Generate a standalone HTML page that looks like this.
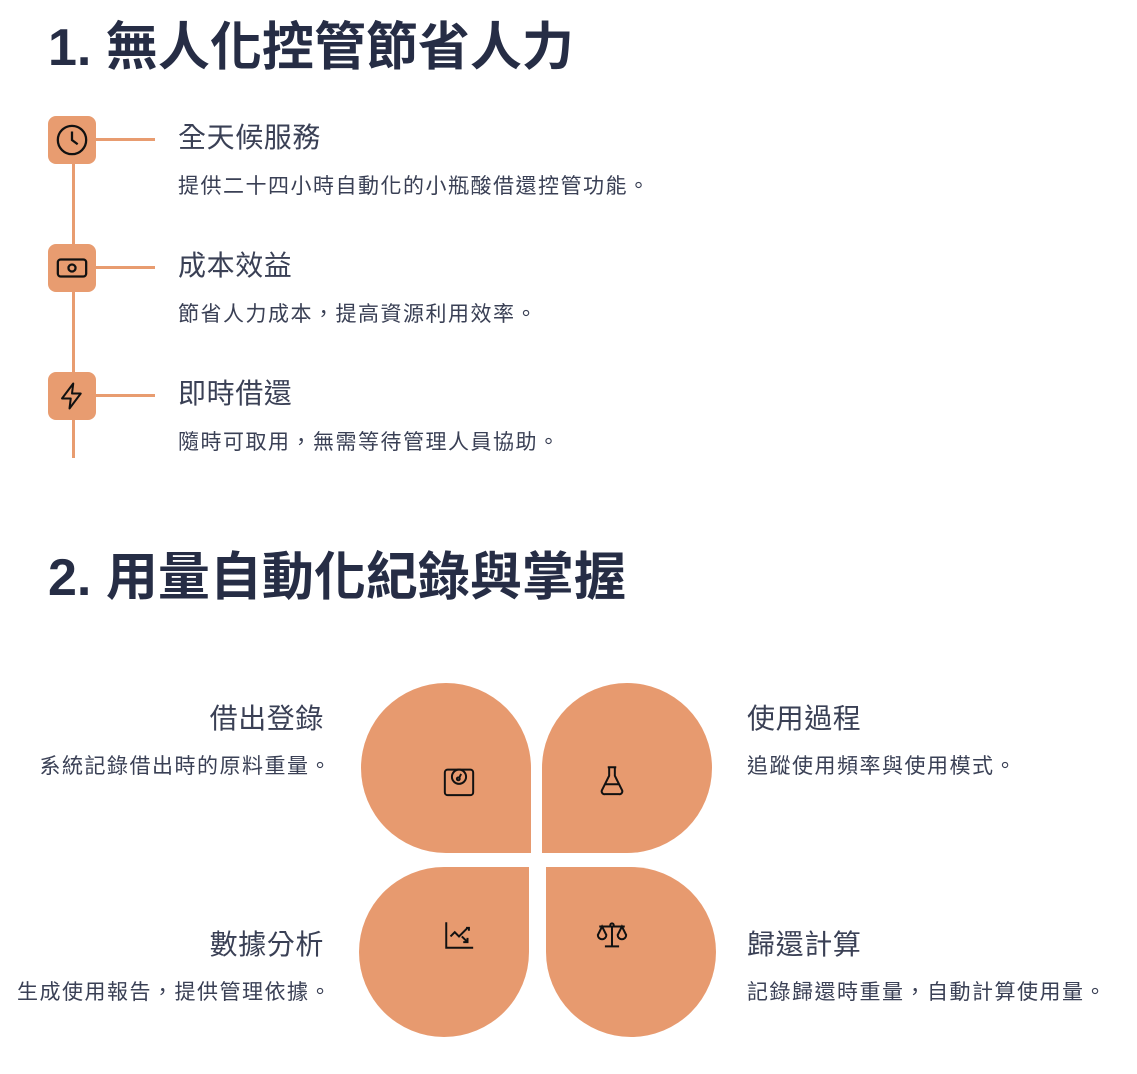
<!DOCTYPE html>
<html><head><meta charset="utf-8"><style>
body{margin:0;width:1137px;height:1074px;background:#fff;position:relative;font-family:"Liberation Sans","Noto Sans CJK TC",sans-serif;color:#262d45;overflow:hidden}
.a{position:absolute;white-space:nowrap}
h1{position:absolute;margin:0;font-size:52px;font-weight:bold;left:48px;line-height:1;color:#262d45}
.h{font-size:28px;letter-spacing:0.6px;color:#3a4055;line-height:1}
.d{font-size:21px;letter-spacing:1.5px;color:#3a4055;line-height:1}
.ic{position:absolute;left:48px;width:48px;height:48px;background:#e89c70;border-radius:8px;display:flex;align-items:center;justify-content:center}
.hl{position:absolute;left:96px;width:59px;height:3px;background:#e89c70}
.p{position:absolute;width:170px;height:170px;background:#e79a6f;border-radius:85px}
</style></head><body>
<h1 style="top:22px">1. 無人化控管節省人力</h1>
<div class="a" style="left:72px;top:160px;width:3px;height:298px;background:#e89c70"></div>
<div class="ic" style="top:116px"><svg width="34" height="34" viewBox="0 0 24 24" fill="none" stroke="#111" stroke-width="1.6"><circle cx="12" cy="12" r="10"/><path d="M12 6v6l4 3"/></svg></div>
<div class="hl" style="top:138px"></div>
<div class="ic" style="top:244px"><svg width="34" height="34" viewBox="0 0 24 24" fill="none" stroke="#111" stroke-width="1.6"><rect x="2" y="6" width="20" height="12" rx="2"/><circle cx="12" cy="12" r="2.5"/><path d="M6 12h.01M18 12h.01"/></svg></div>
<div class="hl" style="top:266px"></div>
<div class="ic" style="top:372px"><svg width="30" height="30" viewBox="0 0 24 24" fill="none" stroke="#111" stroke-width="1.6" stroke-linejoin="round"><path d="M13 2L4 14h7l-1 8 9-12h-7z"/></svg></div>
<div class="hl" style="top:394px"></div>
<div class="a h" style="left:178px;top:124px">全天候服務</div>
<div class="a d" style="left:178px;top:176px">提供二十四小時自動化的小瓶酸借還控管功能。</div>
<div class="a h" style="left:178px;top:252px">成本效益</div>
<div class="a d" style="left:178px;top:304px">節省人力成本，提高資源利用效率。</div>
<div class="a h" style="left:178px;top:380px">即時借還</div>
<div class="a d" style="left:178px;top:432px">隨時可取用，無需等待管理人員協助。</div>

<h1 style="top:552px">2. 用量自動化紀錄與掌握</h1>
<div class="p" style="left:361px;top:683px;border-bottom-right-radius:0"></div>
<div class="p" style="left:542px;top:683px;border-bottom-left-radius:0"></div>
<div class="p" style="left:359px;top:867px;border-top-right-radius:0"></div>
<div class="p" style="left:546px;top:867px;border-top-left-radius:0"></div>
<svg class="a" style="left:442px;top:764px" width="34" height="34" viewBox="0 0 24 24" fill="none" stroke="#111" stroke-width="1.4"><rect x="2" y="4" width="20" height="18" rx="2"/><circle cx="12" cy="9" r="5" fill="#e79a6f"/><path d="M12 10l1.5-3"/><circle cx="11.5" cy="10.5" r="1"/></svg>
<svg class="a" style="left:595px;top:763px" width="34" height="34" viewBox="0 0 24 24" fill="none" stroke="#111" stroke-width="1.4" stroke-linejoin="round"><path d="M9 3h6M10 3v6l-5 10a2 2 0 0 0 2 3h10a2 2 0 0 0 2-3l-5-10V3M7 15h10"/></svg>
<svg class="a" style="left:442px;top:918px" width="34" height="34" viewBox="0 0 24 24" fill="none" stroke="#111" stroke-width="1.4"><path d="M3 3v18h19M6 13l3-3 3 3 6-6M17 7h2v2M14 13l4 4M18 14v3h-3"/></svg>
<svg class="a" style="left:595px;top:918px" width="34" height="34" viewBox="0 0 24 24" fill="none" stroke="#111" stroke-width="1.4"><path d="M12 4v16M7 20h10M3 6h18M5 6l-3 6a3 3 0 0 0 6 0zM19 6l-3 6a3 3 0 0 0 6 0z"/><circle cx="12" cy="5" r="1.2" fill="#e79a6f"/></svg>

<div class="a h" style="right:813px;top:705px">借出登錄</div>
<div class="a d" style="right:805px;top:756px">系統記錄借出時的原料重量。</div>
<div class="a h" style="right:813px;top:931px">數據分析</div>
<div class="a d" style="right:805px;top:982px">生成使用報告，提供管理依據。</div>
<div class="a h" style="left:747px;top:705px">使用過程</div>
<div class="a d" style="left:747px;top:756px">追蹤使用頻率與使用模式。</div>
<div class="a h" style="left:747px;top:931px">歸還計算</div>
<div class="a d" style="left:747px;top:982px">記錄歸還時重量，自動計算使用量。</div>
</body></html>
